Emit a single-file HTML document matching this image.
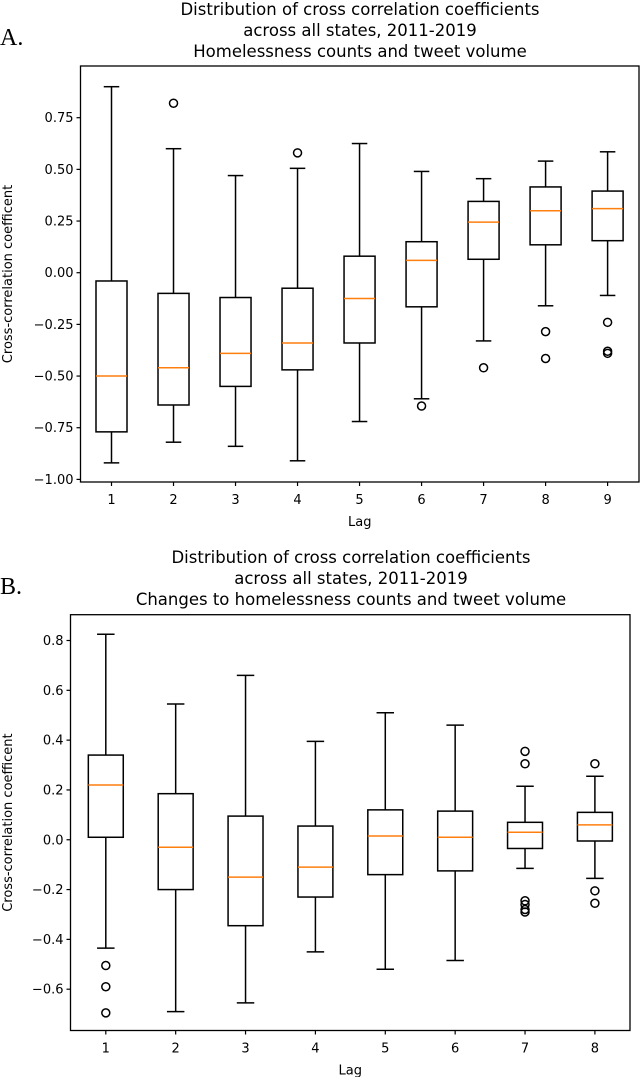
<!DOCTYPE html>
<html><head><meta charset="utf-8"><style>
html,body{margin:0;padding:0;background:#fff;}
svg{display:block;font-family:"DejaVu Sans","Liberation Sans",sans-serif;}
</style></head><body>
<svg id="fig" width="640" height="1077" viewBox="0 0 640 1077" xmlns="http://www.w3.org/2000/svg">
<text x="0" y="45" font-family="Liberation Serif,serif" font-size="24">A.</text>
<text x="0" y="594" font-family="Liberation Serif,serif" font-size="24">B.</text>
</svg>
<script>
// Panel A data
const lagsA = [1,2,3,4,5,6,7,8,9];
const loA  = [-0.92,-0.82,-0.84,-0.91,-0.72,-0.61,-0.33,-0.16,-0.11];
const q1A  = [-0.77,-0.64,-0.55,-0.47,-0.34,-0.165,0.065,0.135,0.155];
const medA = [-0.50,-0.46,-0.39,-0.34,-0.125,0.06,0.245,0.30,0.31];
const q3A  = [-0.04,-0.10,-0.12,-0.075,0.08,0.15,0.345,0.415,0.395];
const hiA  = [0.90,0.60,0.47,0.505,0.625,0.49,0.455,0.54,0.585];
const flA  = [[],[0.82],[],[0.58],[],[-0.645],[-0.46],[-0.285,-0.415],[-0.24,-0.38,-0.39]];
const ticksA = [0.75,0.50,0.25,0.00,-0.25,-0.50,-0.75,-1.00];
const tickLabelsA = ["0.75","0.50","0.25","0.00","\u22120.25","\u22120.50","\u22120.75","\u22121.00"];
// Panel B data
const lagsB = [1,2,3,4,5,6,7,8];
const loB  = [-0.435,-0.69,-0.655,-0.45,-0.52,-0.485,-0.115,-0.155];
const q1B  = [0.01,-0.20,-0.345,-0.23,-0.14,-0.125,-0.035,-0.005];
const medB = [0.22,-0.03,-0.15,-0.11,0.015,0.01,0.03,0.06];
const q3B  = [0.34,0.185,0.095,0.055,0.12,0.115,0.07,0.11];
const hiB  = [0.825,0.545,0.66,0.395,0.51,0.46,0.215,0.255];
const flB  = [[-0.505,-0.59,-0.695],[],[],[],[],[],[0.355,0.305,-0.245,-0.26,-0.28,-0.29],[0.305,-0.205,-0.255]];
const ticksB = [0.8,0.6,0.4,0.2,0.0,-0.2,-0.4,-0.6];
const tickLabelsB = ["0.8","0.6","0.4","0.2","0.0","\u22120.2","\u22120.4","\u22120.6"];

const NS="http://www.w3.org/2000/svg";
const svg=document.getElementById('fig');
function mk(tag,attrs,parent){const e=document.createElementNS(NS,tag);for(const k in attrs)e.setAttribute(k,attrs[k]);(parent||svg).appendChild(e);return e;}

function panel(cfg){
  const g=mk('g',{});
  
  
  const y=v=>cfg.y0+(v-cfg.v0)*(cfg.y1-cfg.y0)/(cfg.v1-cfg.v0);
  const x=l=>cfg.x0+(l-1)*(cfg.x1-cfg.x0)/(cfg.lags.length-1);
  const sp=(cfg.x1-cfg.x0)/(cfg.lags.length-1);
  const bw=sp*0.5, cw=sp*0.25;
  cfg.title.forEach((t,i)=>{const tx=mk('text',{x:cfg.tcx,y:cfg.ty+i*21,'text-anchor':'middle','font-size':'16.5',fill:'#000'},g);tx.textContent=t;
    
    });
  const frame=mk('rect',{x:cfg.L,y:cfg.T,width:cfg.R-cfg.L,height:cfg.B-cfg.T,fill:'none',stroke:'#000','stroke-width':'1.3'},g);
  
  
  cfg.ticks.forEach((v,i)=>{const yy=y(v);mk('line',{x1:cfg.L-4,x2:cfg.L,y1:yy,y2:yy,stroke:'#000','stroke-width':'1.2'},g);
    const t=mk('text',{x:cfg.L-7,y:yy+4.5,'text-anchor':'end','font-size':'13'},g);t.textContent=cfg.tickLabels[i];
    
    });
  cfg.lags.forEach((l,i)=>{const xx=x(l);
    mk('line',{x1:xx,x2:xx,y1:cfg.B,y2:cfg.B+4,stroke:'#000','stroke-width':'1.2'},g);
    const t=mk('text',{x:xx,y:cfg.B+22,'text-anchor':'middle','font-size':'13'},g);t.textContent=String(l);
    
    
    const bg=mk('g',{fill:'none',stroke:'#000','stroke-width':'1.5'},g);
    
    
    mk('rect',{x:xx-bw/2,y:y(cfg.q3[i]),width:bw,height:y(cfg.q1[i])-y(cfg.q3[i])},bg);
    mk('line',{x1:xx,x2:xx,y1:y(cfg.q3[i]),y2:y(cfg.hi[i])},bg);
    mk('line',{x1:xx,x2:xx,y1:y(cfg.q1[i]),y2:y(cfg.lo[i])},bg);
    mk('line',{x1:xx-cw/2,x2:xx+cw/2,y1:y(cfg.hi[i]),y2:y(cfg.hi[i])},bg);
    mk('line',{x1:xx-cw/2,x2:xx+cw/2,y1:y(cfg.lo[i]),y2:y(cfg.lo[i])},bg);
    mk('line',{x1:xx-bw/2,x2:xx+bw/2,y1:y(cfg.med[i]),y2:y(cfg.med[i]),stroke:'#ff7f0e','stroke-width':'1.5'},bg);
    cfg.fl[i].forEach(f=>{const c=mk('circle',{cx:xx,cy:y(f),r:4},bg);
      
      });
  });
  const xl=mk('text',{x:(cfg.L+cfg.R)/2,y:cfg.B+44,'text-anchor':'middle','font-size':'13'},g);xl.textContent='Lag';
  
  
  const cy=(cfg.T+cfg.B)/2;
  const yl=mk('text',{x:12,y:cy,'text-anchor':'middle','font-size':'13',transform:'rotate(-90 12 '+cy+')'},g);yl.textContent='Cross-correlation coefficent';
  
  
}
panel({name:'panel-a-chart',L:80.5,R:639,T:66,B:482,x0:111.5,x1:607.6,y0:117.7,v0:0.75,y1:479.4,v1:-1.0,
  lags:lagsA,lo:loA,q1:q1A,med:medA,q3:q3A,hi:hiA,fl:flA,ticks:ticksA,tickLabels:tickLabelsA,
  tcx:360,ty:15,title:['Distribution of cross correlation coefficients','across all states, 2011-2019','Homelessness counts and tweet volume']});
panel({name:'panel-b-chart',L:70.5,R:630,T:614.7,B:1030.5,x0:105.8,x1:594.9,y0:640.5,v0:0.8,y1:989.2,v1:-0.6,
  lags:lagsB,lo:loB,q1:q1B,med:medB,q3:q3B,hi:hiB,fl:flB,ticks:ticksB,tickLabels:tickLabelsB,
  tcx:351,ty:563,title:['Distribution of cross correlation coefficients','across all states, 2011-2019','Changes to homelessness counts and tweet volume']});
</script>
</body></html>
